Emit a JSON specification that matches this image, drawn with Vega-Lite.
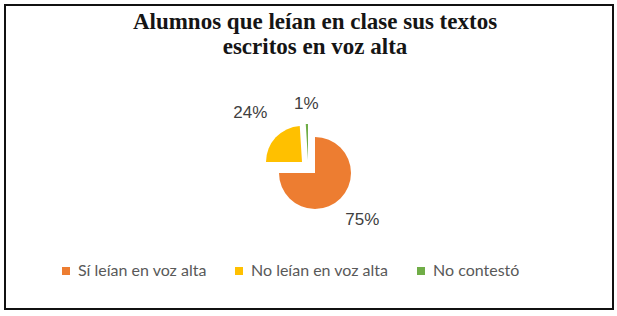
{
  "$schema": "https://vega.github.io/schema/vega-lite/v6.json",
  "width": 608,
  "height": 304,
  "autosize": {"type": "none"},
  "padding": {"left": 5, "top": 5, "right": 4, "bottom": 7},
  "background": "white",
  "view": {"stroke": "#111111", "strokeWidth": 2, "fill": "white"},
  "config": {
    "view": {"stroke": "#111111", "strokeWidth": 2},
    "text": {"font": "Liberation Sans"}
  },
  "title": {
    "text": ["Alumnos que leían en clase sus textos", "escritos en voz alta"],
    "font": "Liberation Serif",
    "fontSize": 23,
    "fontWeight": "bold",
    "color": "#151515",
    "anchor": "middle",
    "frame": "group",
    "offset": -54,
    "dx": 6,
    "lineHeight": 25
  },
  "data": {
    "values": [
      {"cat": "Sí leían en voz alta", "value": 75, "order": 1},
      {"cat": "No leían en voz alta", "value": 24, "order": 2},
      {"cat": "No contestó", "value": 1, "order": 3}
    ]
  },
  "transform": [
    {"stack": "value", "groupby": [], "as": ["v0", "v1"], "sort": [{"field": "order", "order": "ascending"}]},
    {"calculate": "(datum.v0 + datum.v1) / 2", "as": "mid"},
    {"calculate": "datum.value + '%'", "as": "label"}
  ],
  "layer": [
    {
      "transform": [{"filter": "datum.order == 1"}],
      "layer": [
        {
          "mark": {"type": "arc", "outerRadius": 36, "xOffset": 6, "yOffset": 16},
          "encoding": {
            "theta": {"field": "v0", "type": "quantitative", "scale": {"domain": [0, 100]}},
            "theta2": {"field": "v1"},
            "color": {
              "field": "cat", "type": "nominal",
              "scale": {"domain": ["Sí leían en voz alta", "No leían en voz alta", "No contestó"], "range": ["#ED7D31", "#FFC000", "#70AD47"]},
              "legend": {
                "title": null, "orient": "none", "legendX": 53, "legendY": 258,
                "direction": "horizontal", "columns": 3, "symbolType": "square", "symbolSize": 64,
                "symbolStrokeWidth": 0, "labelFont": "Lato", "labelFontSize": 16, "labelColor": "#595959",
                "columnPadding": 24, "labelOffset": 4
              }
            }
          }
        },
        {
          "mark": {"type": "text", "radius": 67, "xOffset": 6, "yOffset": 16, "fontSize": 17, "color": "#404040"},
          "encoding": {
            "theta": {"field": "mid", "type": "quantitative", "scale": {"domain": [0, 100]}},
            "text": {"field": "label"}
          }
        }
      ]
    },
    {
      "transform": [{"filter": "datum.order == 2"}],
      "layer": [
        {
          "mark": {"type": "arc", "outerRadius": 36, "xOffset": -7, "yOffset": 5},
          "encoding": {
            "theta": {"field": "v0", "type": "quantitative", "scale": {"domain": [0, 100]}},
            "theta2": {"field": "v1"},
            "color": {"field": "cat", "type": "nominal"}
          }
        },
        {
          "mark": {"type": "text", "radius": 71, "xOffset": -7, "yOffset": 5, "fontSize": 17, "color": "#404040"},
          "encoding": {
            "theta": {"field": "mid", "type": "quantitative", "scale": {"domain": [0, 100]}},
            "text": {"field": "label"}
          }
        }
      ]
    },
    {
      "transform": [{"filter": "datum.order == 3"}],
      "layer": [
        {
          "mark": {"type": "arc", "outerRadius": 36, "xOffset": -1, "yOffset": 3},
          "encoding": {
            "theta": {"field": "v0", "type": "quantitative", "scale": {"domain": [0, 100]}},
            "theta2": {"field": "v1"},
            "color": {"field": "cat", "type": "nominal"}
          }
        },
        {
          "mark": {"type": "text", "radius": 56, "xOffset": -1, "yOffset": 3, "fontSize": 17, "color": "#404040"},
          "encoding": {
            "theta": {"field": "mid", "type": "quantitative", "scale": {"domain": [0, 100]}},
            "text": {"field": "label"}
          }
        }
      ]
    }
  ]
}
